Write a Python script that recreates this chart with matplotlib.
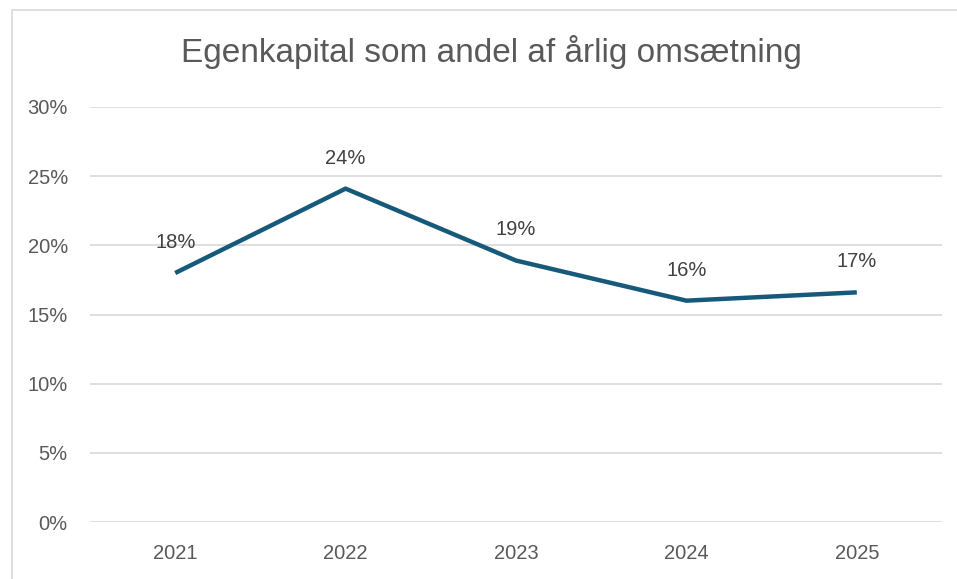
import matplotlib
matplotlib.use("Agg")
import matplotlib.pyplot as plt
from matplotlib.patches import Rectangle
from matplotlib.ticker import FuncFormatter, MultipleLocator

years = ["2021", "2022", "2023", "2024", "2025"]
values = [18.0, 24.1, 18.9, 16.0, 16.6]
labels = ["18%", "24%", "19%", "16%", "17%"]
title = "Egenkapital som andel af årlig omsætning"

fam = ["Liberation Sans", "DejaVu Sans"]
plt.rcParams['font.family'] = fam

fig = plt.figure(figsize=(9.57, 5.79), dpi=100)
fig.patches.append(Rectangle((12/957, -0.1), 2, 1.1 - 10/579, transform=fig.transFigure,
                             fill=False, edgecolor="#d9d9d9", linewidth=1.2, zorder=0))
ax = fig.add_axes([90/957, 1-522/579, 852/957, 415/579])

x = list(range(len(years)))
ax.plot(x, values, color="#17597a", linewidth=3.2, solid_capstyle="butt", zorder=3)
for xi, v, lab in zip(x, values, labels):
    ax.annotate(lab, (xi, v), xytext=(0, 22), textcoords="offset points", ha="center",
                va="center", fontsize=14.5, color="#404040")

ax.set_xlim(-0.5, 4.5)
ax.set_ylim(0, 30)
ax.yaxis.set_major_locator(MultipleLocator(5))
ax.yaxis.set_major_formatter(FuncFormatter(lambda v, p: f"{v:.0f}%"))
ax.set_xticks(x)
ax.set_xticklabels(years)
ax.grid(axis="y", color="#d9d9d9", linewidth=1.2)
ax.set_axisbelow(True)
for s in ax.spines.values():
    s.set_visible(False)
ax.tick_params(length=0, colors="#595959", labelsize=14.5)
ax.tick_params(axis="x", pad=16)
ax.tick_params(axis="y", pad=16)

fig.text(491/957, 1-52/579, title, ha="center", va="center", fontsize=24, color="#595959")

fig.savefig("out.png", dpi=100)
